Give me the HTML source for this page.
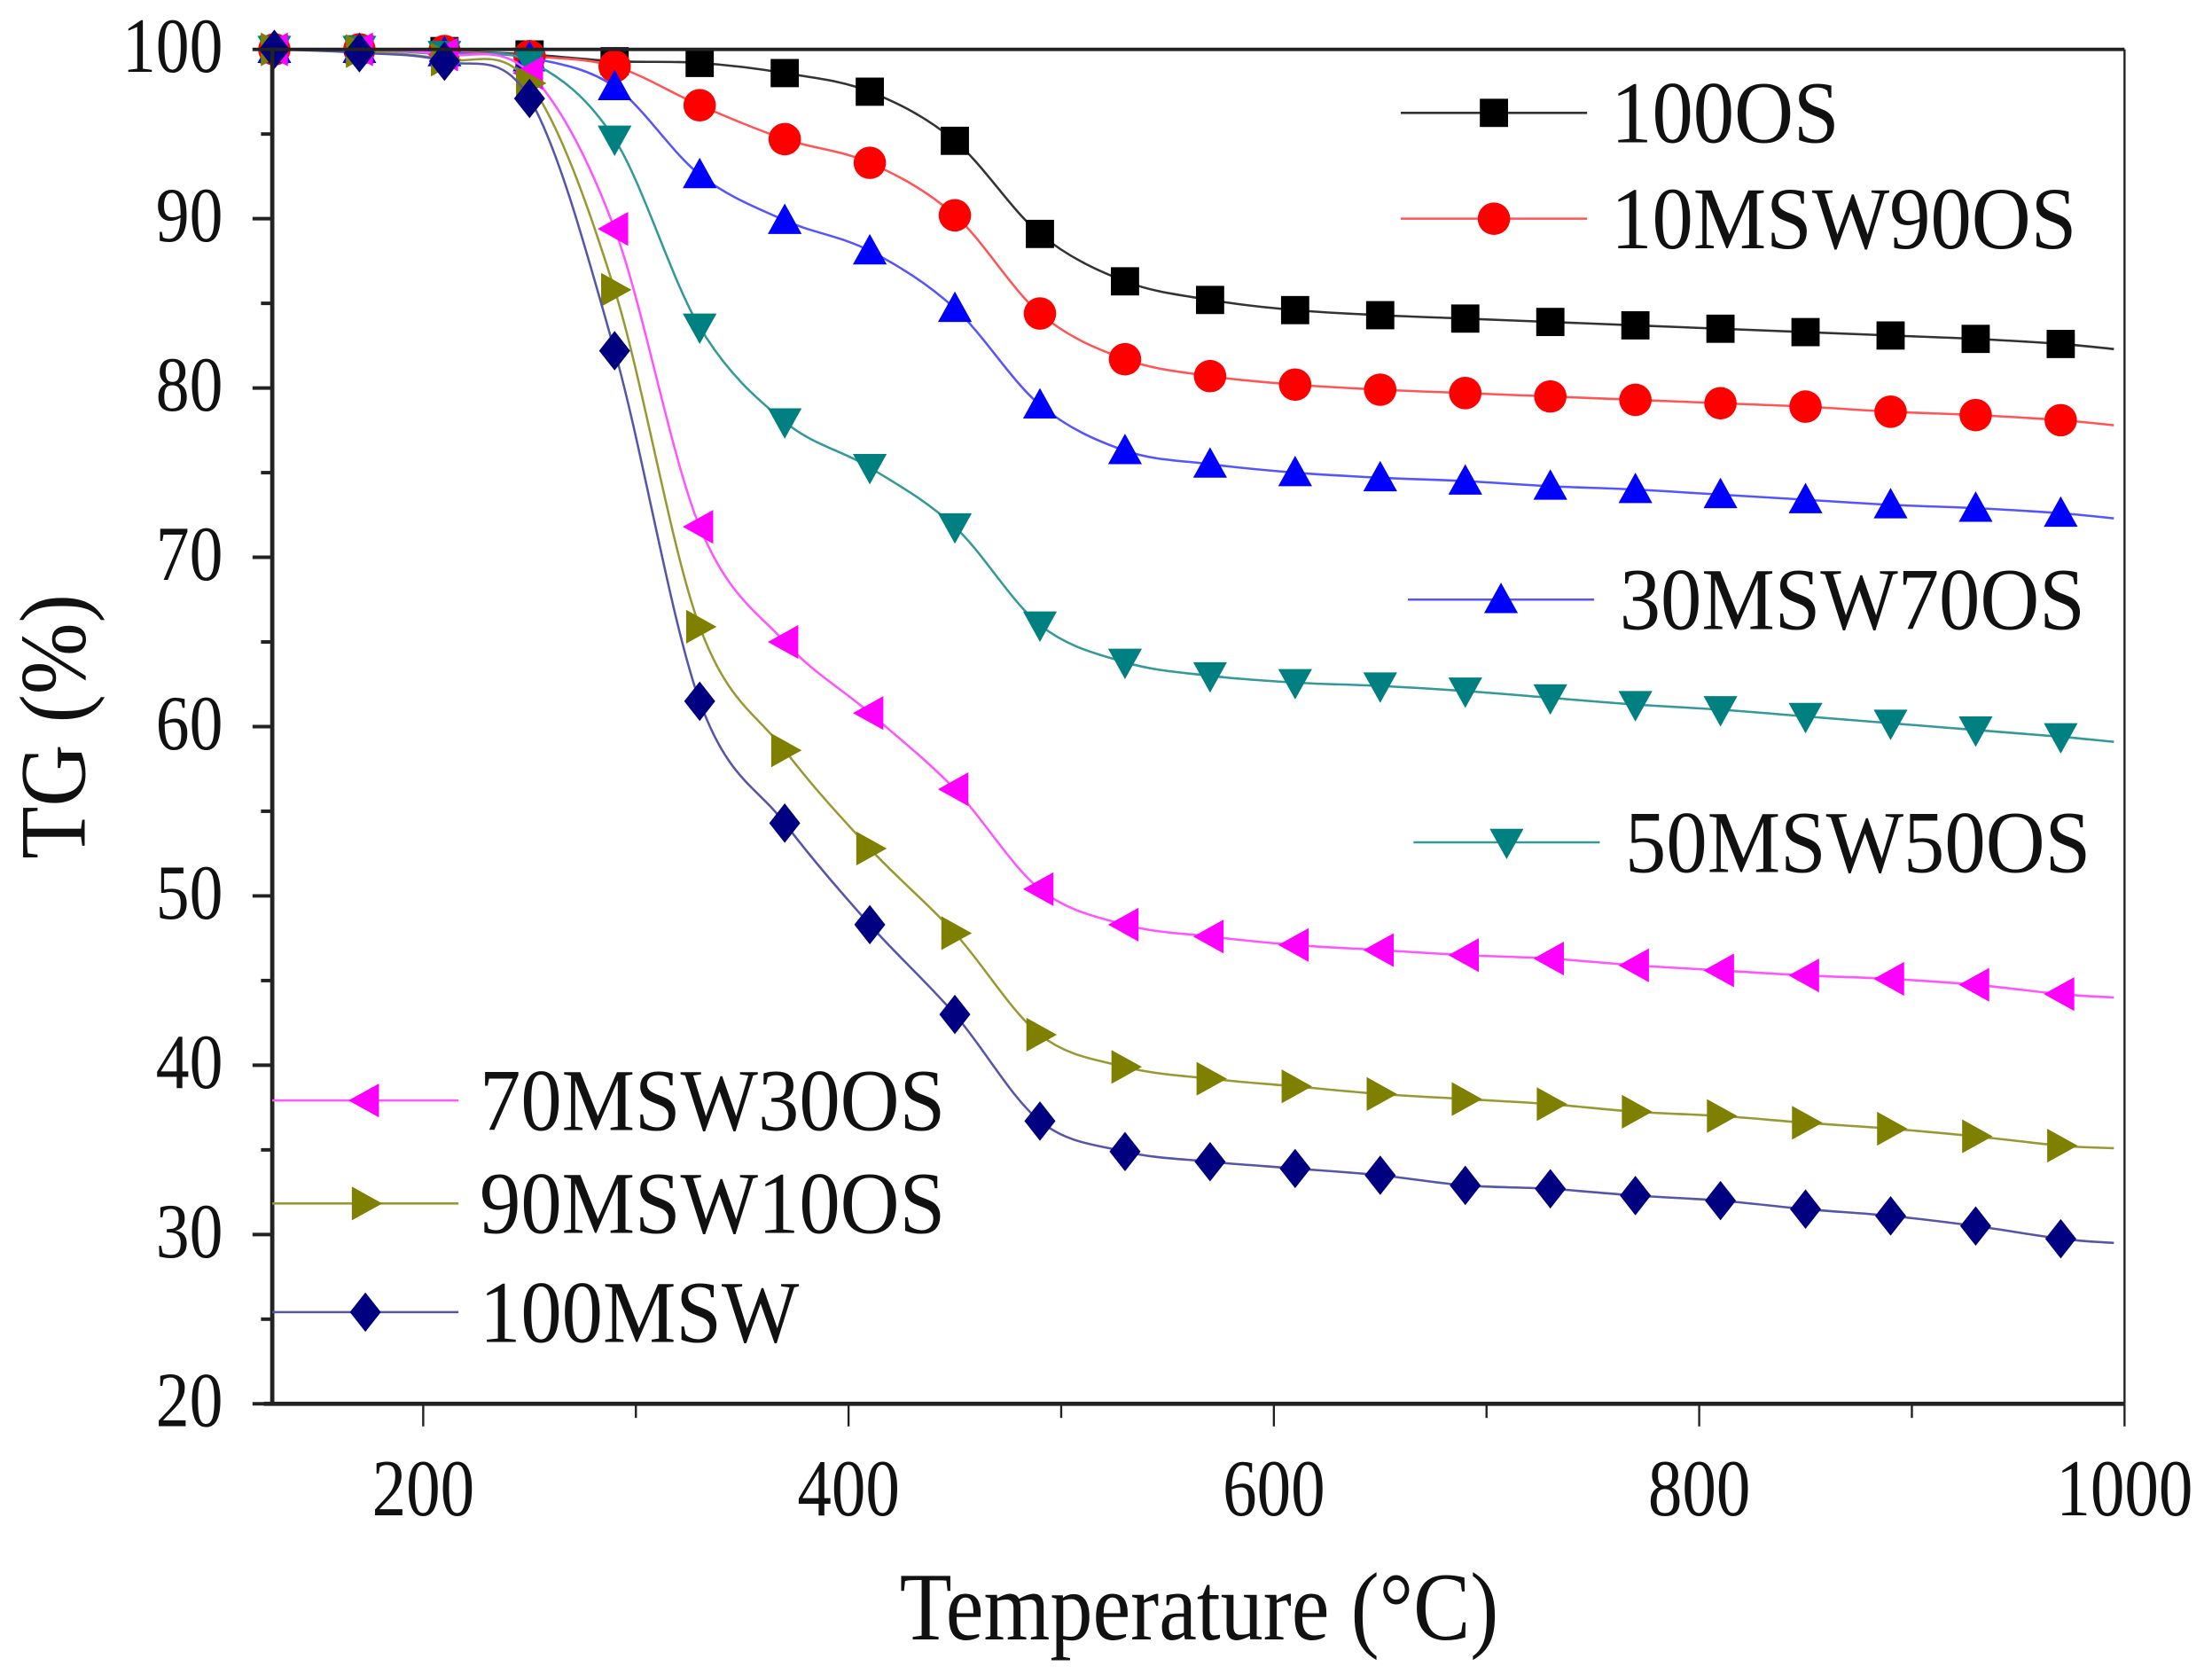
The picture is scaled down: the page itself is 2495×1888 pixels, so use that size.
<!DOCTYPE html>
<html><head><meta charset="utf-8"><style>
html,body{margin:0;padding:0;background:#fff}
svg{display:block}
text{font-family:"Liberation Serif",serif;fill:#111}
</style></head><body>
<svg id="chart" width="2495" height="1888" viewBox="0 0 1568 1186.5" preserveAspectRatio="none" xmlns="http://www.w3.org/2000/svg">
<g id="plot"></g>
<text x="0" y="0" font-size="58" text-anchor="middle" transform="translate(60,515) rotate(-90) scale(1.05,1.15)">TG (%)</text>
<text x="0" y="0" font-size="56" text-anchor="middle" transform="translate(850,1162) scale(1.08,1.22)">Temperature (°C)</text>
</svg>
<script>
const temps = [130,170,210,250,290,330,370,410,450,490,530,570,610,650,690,730,770,810,850,890,930,970,995];
const seriesNames = ["100OS","10MSW90OS","30MSW70OS","50MSW50OS","70MSW30OS","90MSW10OS","100MSW"];
const s100OS = [100,100,99.9,99.7,99.3,99.2,98.6,97.5,94.6,89.1,86.3,85.2,84.6,84.3,84.1,83.9,83.7,83.5,83.3,83.1,82.9,82.6,82.3];
const s10MSW90OS = [100,100,99.9,99.6,99.0,96.7,94.7,93.3,90.2,84.4,81.7,80.7,80.2,79.9,79.7,79.5,79.3,79.1,78.9,78.6,78.4,78.1,77.8];
const s30MSW70OS = [100,100,99.8,99.5,97.8,92.6,89.9,88.1,84.7,79.0,76.3,75.5,75.0,74.7,74.5,74.2,74.0,73.7,73.4,73.1,72.9,72.6,72.3];
const s50MSW50OS = [100,100,99.7,99.3,94.7,83.6,78.0,75.3,71.8,66.0,63.8,63.0,62.6,62.4,62.1,61.7,61.3,61.0,60.6,60.2,59.8,59.4,59.1];
const s70MSW30OS = [100,100,99.7,98.6,89.4,71.8,65.0,60.8,56.3,50.4,48.3,47.6,47.1,46.8,46.5,46.3,45.9,45.6,45.3,45.1,44.75,44.2,44.0];
const s90MSW10OS = [100,99.9,99.4,98.0,85.8,65.9,58.6,52.8,47.8,41.8,39.9,39.2,38.75,38.3,38.0,37.7,37.25,37.0,36.6,36.25,35.8,35.25,35.1];
const s100MSW = [100,99.8,99.3,97.1,82.2,61.5,54.3,48.3,43.0,36.7,34.9,34.3,33.9,33.5,32.9,32.7,32.3,32.0,31.5,31.1,30.5,29.75,29.5];
const xTicks = [200,400,600,800,1000];
const yTicks = [20,30,40,50,60,70,80,90,100];

const NS="http://www.w3.org/2000/svg";
const L=193,R=1506,T=35,B=995;
const xs=v=>300+(v-200)*(1506-300)/800;
const ys=v=>B-(v-20)*(B-T)/80;
const g=document.getElementById('plot');
function mk(tag,attrs,parent){const e=document.createElementNS(NS,tag);for(const k in attrs)e.setAttribute(k,attrs[k]);(parent||g).appendChild(e);return e;}

const colors=["#000000","#ff0000","#0000ff","#008080","#ff00ff","#808000","#000080"];
const lineColors=["#333","#ff5555","#5555ff","#339999","#ff55ff","#999933","#5555aa"];
const shapes=["square","circle","up","down","left","right","diamond"];
const data=[s100OS,s10MSW90OS,s30MSW70OS,s50MSW50OS,s70MSW30OS,s90MSW10OS,s100MSW];

function marker(shape,cx,cy,color,parent){
  const s=12;let e;
  if(shape==="square") e=mk('rect',{x:cx-10,y:cy-10,width:20,height:20,fill:color},parent);
  else if(shape==="circle") e=mk('circle',{cx:cx,cy:cy,r:11.5,fill:color},parent);
  else{
    let p;
    if(shape==="up") p=[[cx,cy-s],[cx+s,cy+s*0.8],[cx-s,cy+s*0.8]];
    if(shape==="down") p=[[cx,cy+s],[cx+s,cy-s*0.8],[cx-s,cy-s*0.8]];
    if(shape==="left") p=[[cx-s,cy],[cx+s*0.8,cy-s],[cx+s*0.8,cy+s]];
    if(shape==="right") p=[[cx+s,cy],[cx-s*0.8,cy-s],[cx-s*0.8,cy+s]];
    if(shape==="diamond") p=[[cx,cy-14],[cx+11,cy],[cx,cy+14],[cx-11,cy]];
    e=mk('polygon',{points:p.map(q=>q.join(',')).join(' '),fill:color},parent);
  }
  return e;
}
function smoothPath(pts){
  let d=`M${pts[0][0]},${pts[0][1]}`;
  for(let i=0;i<pts.length-1;i++){
    const p0=pts[Math.max(0,i-1)],p1=pts[i],p2=pts[i+1],p3=pts[Math.min(pts.length-1,i+2)];
    const c1=[p1[0]+(p2[0]-p0[0])/6,p1[1]+(p2[1]-p0[1])/6];
    const c2=[p2[0]-(p3[0]-p1[0])/6,p2[1]-(p3[1]-p1[1])/6];
    d+=` C${c1[0]},${c1[1]} ${c2[0]},${c2[1]} ${p2[0]},${p2[1]}`;
  }
  return d;
}

data.forEach((arr,si)=>{
  const sg=mk('g',{});
  
  
  const pts=arr.map((v,i)=>[xs(temps[i]),ys(v)]);
  const p=mk('path',{d:smoothPath(pts),fill:'none',stroke:lineColors[si],'stroke-width':1.6},sg);
  
  
  arr.forEach((v,i)=>{
    if(i===arr.length-1) return;
    const m=marker(shapes[si],xs(temps[i]),ys(v),colors[si],sg);
    
    
  });
});

mk('line',{x1:L,y1:T,x2:R,y2:T,stroke:'#222','stroke-width':2.5});
mk('line',{x1:R,y1:T,x2:R,y2:B,stroke:'#222','stroke-width':1.5});
mk('line',{x1:L,y1:T-1,x2:L,y2:B+1,stroke:'#222','stroke-width':3});
mk('line',{x1:L-6,y1:B,x2:R,y2:B,stroke:'#222','stroke-width':3});

for(let v=20;v<=100;v+=5){
  const major=v%10===0;
  mk('line',{x1:L-(major?14:8),y1:ys(v),x2:L,y2:ys(v),stroke:'#222','stroke-width':2.5});
}
yTicks.forEach(v=>{
  const t=mk('text',{x:0,y:0,'font-size':44,'text-anchor':'end',transform:`translate(158,${ys(v)+16}) scale(1.08,1.25)`});
  t.textContent=v;
  
  
});
for(let v=200;v<=1000;v+=100){
  const major=v%200===0;
  mk('line',{x1:xs(v),y1:B,x2:xs(v),y2:B+(major?16:10),stroke:'#222','stroke-width':1.5});
}
xTicks.forEach(v=>{
  const t=mk('text',{x:0,y:0,'font-size':44,'text-anchor':'middle',transform:`translate(${xs(v)},1074) scale(1.1,1.3)`});
  t.textContent=v;
  
  
});

const legendPos=[[993,80,1142],[993,155,1142],[998,425,1148],[1002,597,1152],[193,780,340],[193,853,340],[193,930,340]];
legendPos.forEach((lp,si)=>{
  const lg=mk('g',{});
  
  
  mk('line',{x1:lp[0],y1:lp[1],x2:lp[0]+132,y2:lp[1],stroke:lineColors[si],'stroke-width':1.6},lg);
  marker(shapes[si],lp[0]+66,lp[1],colors[si],lg);
  const t=mk('text',{x:0,y:0,'font-size':52,transform:`translate(${lp[2]},${lp[1]+21}) scale(1.12,1.2)`},lg);
  t.textContent=seriesNames[si];
});
</script>
</body></html>
